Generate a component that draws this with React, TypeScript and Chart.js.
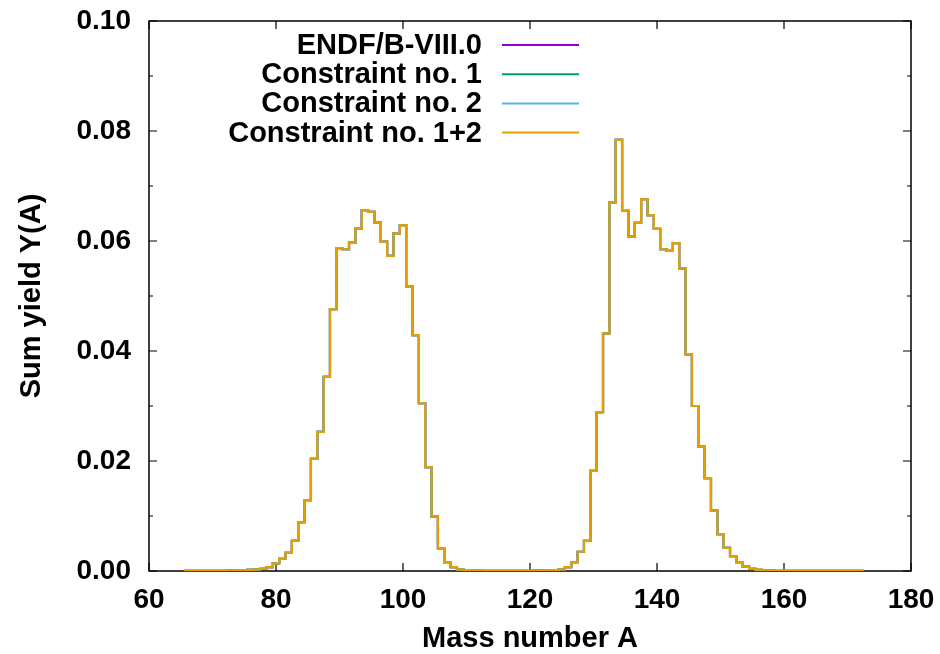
import React, { useEffect, useRef } from 'react';
import { Chart, registerables } from 'chart.js';

Chart.register(...registerables);

// Mass numbers A (bin centres, bin width 1)
const massNumbers: number[] = [
  66, 67, 68, 69, 70, 71, 72, 73, 74, 75, 76, 77, 78, 79, 80, 81, 82, 83, 84, 85,
  86, 87, 88, 89, 90, 91, 92, 93, 94, 95, 96, 97, 98, 99, 100, 101, 102, 103, 104, 105,
  106, 107, 108, 109, 110, 111, 112, 113, 114, 115, 116, 117, 118, 119, 120, 121, 122, 123, 124, 125,
  126, 127, 128, 129, 130, 131, 132, 133, 134, 135, 136, 137, 138, 139, 140, 141, 142, 143, 144, 145,
  146, 147, 148, 149, 150, 151, 152, 153, 154, 155, 156, 157, 158, 159, 160, 161, 162, 163, 164, 165,
  166, 167, 168, 169, 170, 171, 172,
];

// Sum yield Y(A), ENDF/B-VIII.0
const endfYields: number[] = [
  0.00001, 0.00001, 0.00002, 0.00002, 0.00003, 0.00004, 0.00005, 0.00007, 0.0001, 0.00013,
  0.0002, 0.0003, 0.0004, 0.0007, 0.0014, 0.0022, 0.0033, 0.0055, 0.0089, 0.0129,
  0.0204, 0.0253, 0.0353, 0.0476, 0.0587, 0.0585, 0.0597, 0.0623, 0.0656, 0.0653,
  0.0634, 0.0599, 0.0573, 0.0614, 0.0629, 0.0517, 0.0429, 0.0305, 0.0189, 0.0099,
  0.0041, 0.0016, 0.0007, 0.0003, 0.00015, 0.0001, 0.00007, 0.00005, 0.00004, 0.00004,
  0.00003, 0.00003, 0.00003, 0.00004, 0.00005, 0.00006, 0.00008, 0.0001, 0.00015, 0.0003,
  0.0007, 0.0016, 0.0035, 0.0055, 0.0182, 0.0289, 0.0432, 0.067, 0.0784, 0.0655,
  0.0608, 0.0633, 0.0676, 0.0647, 0.0622, 0.0585, 0.0582, 0.0596, 0.055, 0.0394,
  0.03, 0.0226, 0.0169, 0.011, 0.0067, 0.0042, 0.0027, 0.0016, 0.0008, 0.0004,
  0.0002, 0.0001, 0.00007, 0.00005, 0.00004, 0.00004, 0.00003, 0.00003, 0.00002, 0.00002,
  0.00002, 0.00002, 0.00001, 0.00001, 0.00001, 0.00001, 0.00001,
];

// The three constrained evaluations coincide with ENDF/B-VIII.0 at this scale
const constraint1Yields: number[] = endfYields;
const constraint2Yields: number[] = endfYields;
const constraint12Yields: number[] = endfYields;

const seriesLabels: string[] = [
  'ENDF/B-VIII.0',
  'Constraint no. 1',
  'Constraint no. 2',
  'Constraint no. 1+2',
];
const seriesColors: string[] = ['#9400d3', '#009e73', '#56b4e9', '#e69f00'];

const xTicks = { min: 60, max: 180, step: 20 };
const yTicks = { min: 0, max: 0.1, step: 0.02, minorStep: 0.01 };

const FONT = '"Liberation Sans", Arial, sans-serif';
const FS = 28;
const FS_TEXT = 29;

// Histogram steps: each bin spans [A-0.5, A+0.5]
function toSteps(values: number[]) {
  const pts = massNumbers.map((a, i) => ({ x: a - 0.5, y: values[i] }));
  const last = massNumbers.length - 1;
  pts.push({ x: massNumbers[last] + 0.5, y: values[last] });
  return pts;
}

const framePlugin = {
  id: 'gnuplotFrame',
  beforeDatasetsDraw(chart: any) {
    const { ctx, chartArea: a, scales } = chart;
    const xs = scales.x;
    const ys = scales.y;
    ctx.save();
    ctx.strokeStyle = '#000';
    ctx.lineWidth = 1.5;
    ctx.beginPath();
    ctx.rect(a.left, a.top, a.right - a.left, a.bottom - a.top);
    ctx.stroke();
    ctx.lineWidth = 1.2;
    ctx.beginPath();
    const major = 8;
    const minor = 4;
    for (let v = xTicks.min; v <= xTicks.max + 1e-9; v += xTicks.step) {
      const px = xs.getPixelForValue(v);
      ctx.moveTo(px, a.bottom);
      ctx.lineTo(px, a.bottom - major);
      ctx.moveTo(px, a.top);
      ctx.lineTo(px, a.top + major);
    }
    const nMinor = Math.round((yTicks.max - yTicks.min) / yTicks.minorStep);
    for (let k = 0; k <= nMinor; k++) {
      const v = yTicks.min + k * yTicks.minorStep;
      const py = ys.getPixelForValue(v);
      const len = k % 2 === 0 ? major : minor;
      ctx.moveTo(a.left, py);
      ctx.lineTo(a.left + len, py);
      ctx.moveTo(a.right, py);
      ctx.lineTo(a.right - len, py);
    }
    ctx.stroke();
    ctx.restore();
  },
};

const legendPlugin = {
  id: 'gnuplotLegend',
  afterDraw(chart: any) {
    const { ctx, chartArea: a } = chart;
    ctx.save();
    ctx.font = `bold ${FS_TEXT}px ${FONT}`;
    ctx.textAlign = 'right';
    ctx.textBaseline = 'middle';
    chart.data.datasets.forEach((ds: any, i: number) => {
      const y = a.top + 24 + i * 29.2;
      ctx.fillStyle = '#000';
      ctx.fillText(ds.label, a.left + 333, y + 1);
      ctx.strokeStyle = ds.borderColor;
      ctx.lineWidth = 2;
      ctx.beginPath();
      ctx.moveTo(a.left + 353, y);
      ctx.lineTo(a.left + 430, y);
      ctx.stroke();
    });
    ctx.restore();
  },
};

export default function App() {
  const canvasRef = useRef<HTMLCanvasElement | null>(null);

  useEffect(() => {
    if (!canvasRef.current) return;
    const seriesValues = [endfYields, constraint1Yields, constraint2Yields, constraint12Yields];
    const n = seriesLabels.length;
    const chart = new Chart(canvasRef.current, {
      type: 'line',
      data: {
        datasets: seriesLabels.map((label, i) => ({
          label,
          data: toSteps(seriesValues[i]),
          borderColor: seriesColors[i],
          backgroundColor: seriesColors[i],
          borderWidth: 2.2,
          pointRadius: 0,
          stepped: 'before' as const,
          fill: false,
          order: n - 1 - i,
        })),
      },
      options: {
        responsive: false,
        animation: false,
        devicePixelRatio: 1,
        layout: { padding: { top: 21, right: 29, bottom: 0, left: 0 } },
        plugins: {
          legend: { display: false },
          tooltip: { enabled: false },
        },
        scales: {
          x: {
            type: 'linear',
            min: xTicks.min,
            max: xTicks.max,
            grid: { display: false, drawTicks: false },
            border: { display: false },
            ticks: {
              stepSize: xTicks.step,
              color: '#000',
              padding: 12,
              maxRotation: 0,
              font: { family: FONT, size: FS, weight: 'bold' },
              callback: (v: any) => String(v),
            },
            title: {
              display: true,
              text: 'Mass number A',
              color: '#000',
              font: { family: FONT, size: FS_TEXT, weight: 'bold' },
              padding: { top: 0, bottom: -2 },
            },
            afterFit: (s: any) => {
              s.height = 83;
              s.paddingLeft = 0;
              s.paddingRight = 0;
            },
          },
          y: {
            type: 'linear',
            min: yTicks.min,
            max: yTicks.max,
            grid: { display: false, drawTicks: false },
            border: { display: false },
            ticks: {
              stepSize: yTicks.step,
              color: '#000',
              padding: 18,
              font: { family: FONT, size: FS, weight: 'bold' },
              callback: (v: any) => Number(v).toFixed(2),
            },
            title: {
              display: true,
              text: 'Sum yield Y(A)',
              color: '#000',
              font: { family: FONT, size: FS_TEXT, weight: 'bold' },
              padding: { top: 15, bottom: 0 },
            },
            afterFit: (s: any) => {
              s.width = 149;
              s.paddingTop = 0;
              s.paddingBottom = 0;
            },
          },
        },
      },
      plugins: [framePlugin, legendPlugin],
    });
    return () => chart.destroy();
  }, []);

  return (
    <div style={{ position: 'fixed', left: 0, top: 0, width: 940, height: 654, background: '#fff' }}>
      <canvas ref={canvasRef} width={940} height={654} style={{ width: 940, height: 654 }} />
    </div>
  );
}
